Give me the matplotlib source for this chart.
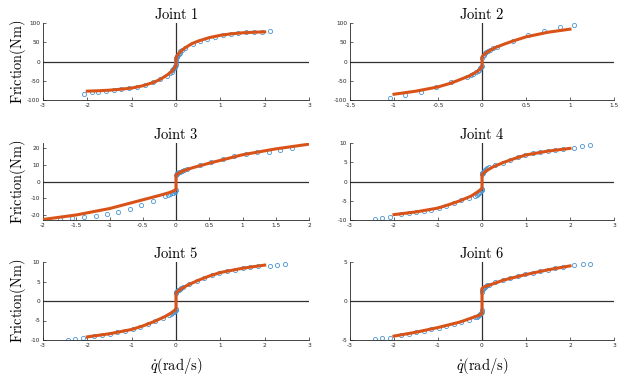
import matplotlib
matplotlib.use("Agg")
import matplotlib.pyplot as plt
from matplotlib.ticker import FixedLocator, FixedFormatter

plt.rcParams['mathtext.fontset'] = 'cm'
plt.rcParams['axes.unicode_minus'] = False

# ---------------- data ----------------
titles = ["Joint 1", "Joint 2", "Joint 3", "Joint 4", "Joint 5", "Joint 6"]

# Joint 1
j1_sx = [-2.08, -1.9, -1.75, -1.57, -1.4, -1.23, -1.05, -0.88, -0.7, -0.53, -0.36, -0.2,
         -0.13, -0.1, -0.08, -0.06, -0.045, -0.03, -0.02, -0.01, -0.005,
         0.005, 0.01, 0.02, 0.03, 0.045, 0.06, 0.08, 0.1, 0.13,
         0.21, 0.38, 0.54, 0.71, 0.89, 1.05, 1.23, 1.4, 1.58, 1.76, 1.93, 2.12]
j1_sy = [-84, -80, -78, -76, -74, -72, -69, -65, -60, -54, -46, -37,
         -30, -26, -23, -20, -17, -14, -11, -8, -5,
         5, 8, 11, 14, 17, 20, 23, 26, 30,
         35, 45, 52, 58, 63, 68, 72, 74, 75.5, 76.5, 77.5, 80]
j1_lx = [-2, -1.75, -1.5, -1.25, -1, -0.75, -0.5, -0.35, -0.2, -0.1, -0.05, -0.02, 0,
         0, 0.02, 0.05, 0.1, 0.2, 0.35, 0.5, 0.75, 1, 1.25, 1.5, 1.75, 2]
j1_ly = [-77, -76, -74.5, -72, -69, -63, -54, -46, -35, -26, -19, -14, -11,
         10, 14, 19, 26, 35, 46, 53, 62, 68, 72, 74.5, 76, 77]

# Joint 2
j2_sx = [-1.05, -0.87, -0.69, -0.52, -0.35, -0.17, -0.13, -0.1, -0.07, -0.05, -0.035, -0.02, -0.01, -0.005,
         0.005, 0.01, 0.02, 0.035, 0.05, 0.07, 0.09, 0.12, 0.17, 0.35, 0.525, 0.7, 0.885, 1.05]
j2_sy = [-94, -88, -78, -67, -54, -39, -35, -32, -28, -25, -22, -18, -15, -12,
         10, 14, 17, 21, 24, 28, 31, 34, 38, 53, 68, 80, 89, 95]
j2_lx = [-1, -0.75, -0.5, -0.35, -0.25, -0.15, -0.1, -0.05, -0.02, 0,
         0, 0.02, 0.05, 0.1, 0.15, 0.25, 0.35, 0.5, 0.75, 1]
j2_ly = [-85, -77, -66, -56, -47, -38, -32, -25, -19, -15,
         12, 17, 23, 30, 36, 45, 53, 64, 76, 84]

# Joint 3
j3_sx = [-1.74, -1.56, -1.39, -1.21, -1.04, -0.87, -0.69, -0.52, -0.34,
         -0.17, -0.12, -0.09, -0.06, -0.04, -0.02, -0.01, -0.005,
         0.005, 0.01, 0.02, 0.04, 0.06, 0.09, 0.12, 0.16,
         0.36, 0.525, 0.7, 0.875, 1.05, 1.22, 1.4, 1.57, 1.75]
j3_sy = [-22.5, -21.8, -21.2, -20.6, -19.4, -18.2, -16.3, -14.0, -11.4,
         -8.4, -7.8, -7.5, -7.0, -6.5, -6.0, -5.5, -5.0,
         4.0, 4.5, 5.0, 5.5, 6.0, 6.5, 7.0, 7.3,
         10.0, 11.8, 13.3, 15.3, 16.7, 17.6, 17.6, 19.0, 19.8]
j3_lx = [-2, -1.5, -1, -0.5, -0.25, -0.1, -0.02, 0, 0, 0.02, 0.1, 0.25, 0.5, 1, 1.5, 2]
j3_ly = [-22.5, -19.8, -16, -10.8, -8.2, -6.5, -5.2, -4.8, 4, 4.6, 6.3, 8.3, 11, 16, 19.5, 22.3]

# Joint 4
j4_sx = [-2.44, -2.27, -2.09, -1.84, -1.67, -1.5, -1.32, -1.15, -0.98, -0.81, -0.64, -0.47, -0.3,
         -0.15, -0.12, -0.09, -0.06, -0.04, -0.02, -0.01, -0.005,
         0.005, 0.01, 0.02, 0.04, 0.06, 0.09, 0.12, 0.15,
         0.3, 0.47, 0.64, 0.81, 0.98, 1.15, 1.32, 1.5, 1.67, 1.84, 2.1, 2.27, 2.46]
j4_sy = [-9.7, -9.5, -9.1, -8.4, -8.2, -7.9, -7.6, -7.3, -6.9, -6.3, -5.6, -4.9, -4.3,
         -3.7, -3.5, -3.2, -2.9, -2.6, -2.3, -2.1, -1.9,
         1.9, 2.1, 2.3, 2.6, 2.9, 3.2, 3.5, 3.7,
         4.3, 4.9, 5.7, 6.4, 7.0, 7.4, 7.7, 8.0, 8.2, 8.4, 8.8, 9.2, 9.6]
j4_lx = [-2, -1.5, -1, -0.75, -0.5, -0.25, -0.1, -0.02, 0,
         0, 0.02, 0.1, 0.25, 0.5, 0.75, 1, 1.5, 2]
j4_ly = [-8.6, -7.9, -6.9, -6.0, -5.0, -3.8, -2.7, -2.0, -1.8,
         1.8, 2.0, 2.8, 3.8, 5.0, 6.0, 6.9, 7.9, 8.6]

# Joint 5
j5_sx = [-2.44, -2.27, -2.1, -1.84, -1.67, -1.5, -1.32, -1.15, -0.98, -0.81, -0.64, -0.47, -0.3,
         -0.15, -0.12, -0.09, -0.06, -0.04, -0.02, -0.01, -0.005,
         0.005, 0.01, 0.02, 0.04, 0.06, 0.09, 0.12, 0.15,
         0.3, 0.47, 0.64, 0.81, 0.98, 1.15, 1.32, 1.5, 1.67, 1.84, 2.12, 2.28, 2.46]
j5_sy = [-10.0, -9.8, -9.5, -8.9, -8.7, -8.4, -8.0, -7.6, -7.2, -6.6, -5.9, -5.1, -4.3,
         -3.6, -3.4, -3.1, -2.9, -2.7, -2.5, -2.3, -2.0,
         2.0, 2.3, 2.5, 2.7, 2.9, 3.1, 3.4, 3.6,
         4.3, 5.1, 5.9, 6.6, 7.2, 7.6, 8.0, 8.4, 8.7, 8.9, 9.1, 9.35, 9.6]
j5_lx = [-2, -1.5, -1, -0.75, -0.5, -0.25, -0.1, -0.02, 0,
         0, 0.02, 0.1, 0.25, 0.5, 0.75, 1, 1.5, 2]
j5_ly = [-9.2, -8.4, -7.3, -6.4, -5.3, -4.0, -3.0, -2.3, -2.0,
         2.0, 2.3, 3.0, 4.0, 5.3, 6.4, 7.3, 8.4, 9.2]

# Joint 6
j6_sx = [-2.44, -2.27, -2.1, -1.84, -1.67, -1.5, -1.32, -1.15, -0.98, -0.81, -0.64, -0.47, -0.3,
         -0.15, -0.12, -0.09, -0.06, -0.04, -0.02, -0.01, -0.005,
         0.005, 0.01, 0.02, 0.04, 0.06, 0.09, 0.12, 0.15,
         0.3, 0.47, 0.64, 0.81, 0.98, 1.15, 1.32, 1.5, 1.67, 1.84, 2.1, 2.29, 2.46]
j6_sy = [-4.9, -4.8, -4.7, -4.35, -4.2, -4.0, -3.8, -3.6, -3.4, -3.2, -3.0, -2.7, -2.4,
         -2.1, -2.0, -1.9, -1.8, -1.7, -1.6, -1.4, -1.2,
         1.2, 1.4, 1.6, 1.7, 1.8, 1.9, 2.0, 2.1,
         2.4, 2.7, 3.0, 3.2, 3.4, 3.6, 3.8, 4.0, 4.2, 4.35, 4.6, 4.7, 4.8]
j6_lx = [-2, -1.5, -1, -0.5, -0.2, -0.05, 0, 0, 0.05, 0.2, 0.5, 1, 1.5, 2]
j6_ly = [-4.5, -4.0, -3.4, -2.7, -2.1, -1.8, -1.6, 1.6, 1.8, 2.1, 2.7, 3.4, 4.0, 4.5]

scatter_x = [j1_sx, j2_sx, j3_sx, j4_sx, j5_sx, j6_sx]
scatter_y = [j1_sy, j2_sy, j3_sy, j4_sy, j5_sy, j6_sy]
line_x = [j1_lx, j2_lx, j3_lx, j4_lx, j5_lx, j6_lx]
line_y = [j1_ly, j2_ly, j3_ly, j4_ly, j5_ly, j6_ly]

xticks_all = [[-3, -2, -1, 0, 1, 2, 3],
              [-1.5, -1, -0.5, 0, 0.5, 1, 1.5],
              [-2, -1.5, -1, -0.5, 0, 0.5, 1, 1.5, 2],
              [-3, -2, -1, 0, 1, 2, 3],
              [-3, -2, -1, 0, 1, 2, 3],
              [-3, -2, -1, 0, 1, 2, 3]]
xlabels_all = [["-3", "-2", "-1", "0", "1", "2", "3"],
               ["-1.5", "-1", "-0.5", "0", "0.5", "1", "1.5"],
               ["-2", "-1.5", "-1", "-0.5", "0", "0.5", "1", "1.5", "2"],
               ["-3", "-2", "-1", "0", "1", "2", "3"],
               ["-3", "-2", "-1", "0", "1", "2", "3"],
               ["-3", "-2", "-1", "0", "1", "2", "3"]]
yticks_all = [[-100, -50, 0, 50, 100],
              [-100, -50, 0, 50, 100],
              [-20, -10, 0, 10, 20],
              [-10, -5, 0, 5, 10],
              [-10, -5, 0, 5, 10],
              [-5, 0, 5]]
ylabels_all = [["-100", "-50", "0", "50", "100"],
               ["-100", "-50", "0", "50", "100"],
               ["-20", "-10", "0", "10", "20"],
               ["-10", "-5", "0", "5", "10"],
               ["-10", "-5", "0", "5", "10"],
               ["-5", "0", "5"]]
xlims = [(-3, 3), (-1.5, 1.5), (-2, 2), (-3, 3), (-3, 3), (-3, 3)]
ylims = [(-100, 100), (-100, 100), (-22.8, 23), (-10, 10), (-10, 10), (-5, 5)]

# ---------------- layout ----------------
fig = plt.figure(figsize=(6.19, 3.79), dpi=100)
W, H = 619, 379
cols = [(43, 266), (350, 264)]
rows = [(23, 100), (143, 220), (262, 340)]

scatter_color = '#4a95d3'
line_color = '#D95319'

for i in range(6):
    r, c = divmod(i, 2)
    x0, w = cols[c]
    top, bot = rows[r]
    ax = fig.add_axes([x0 / W, 1 - bot / H, w / W, (bot - top) / H])
    ax.set_xlim(*xlims[i])
    ax.set_ylim(*ylims[i])
    ax.axhline(0, color='#303030', lw=0.9, zorder=1)
    ax.axvline(0, color='#303030', lw=0.9, zorder=1)
    ax.plot(scatter_x[i], scatter_y[i], 'o', mfc='none', mec=scatter_color,
            ms=3.0, mew=0.6, zorder=2)
    ax.plot(line_x[i], line_y[i], '-', color=line_color, lw=2.2, zorder=3,
            solid_joinstyle='round')
    for s in ['top', 'right']:
        ax.spines[s].set_visible(False)
    for s in ['left', 'bottom']:
        ax.spines[s].set_linewidth(0.6)
        ax.spines[s].set_color('#262626')
    ax.xaxis.set_major_locator(FixedLocator(xticks_all[i]))
    ax.xaxis.set_major_formatter(FixedFormatter(xlabels_all[i]))
    ax.yaxis.set_major_locator(FixedLocator(yticks_all[i]))
    ax.yaxis.set_major_formatter(FixedFormatter(ylabels_all[i]))
    ax.tick_params(direction='in', length=2.5, width=0.5, labelsize=4.2,
                   colors='#262626', pad=2)
    ax.set_title(r'$\mathrm{%s}$' % titles[i].replace(' ', r'\ '), fontsize=10.5, pad=3)
    if c == 0:
        ax.set_ylabel(r'$\mathrm{Friction(Nm)}$', fontsize=10.3)
        ax.yaxis.set_label_coords(-0.058, 0.5)
    if r == 2:
        ax.set_xlabel(r'$\dot{q}\mathrm{(rad/s)}$', fontsize=10.5)
        ax.xaxis.set_label_coords(0.5, -0.2)

fig.savefig('out.png', dpi=100)
